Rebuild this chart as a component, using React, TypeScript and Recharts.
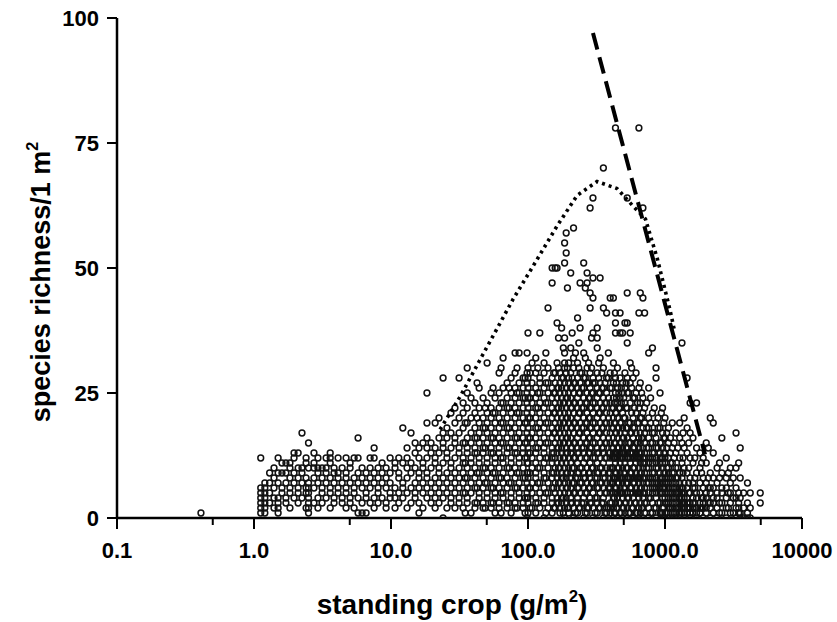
import { Scatter, ScatterChart, XAxis, YAxis } from 'recharts';

// columns of points: [standing crop, species counts found at that crop]
const lowColumns: [number, number[]][] = [
  [0.41, [1]],
  [1.12, [1, 2, 3, 4, 5, 6, 12]],
  [1.2, [1, 2, 3, 4, 5, 6, 7]],
  [1.3, [3, 5, 7, 9]],
  [1.4, [2, 4, 6, 8, 10]],
  [1.5, [1, 2, 3, 4, 7, 9, 12]],
  [1.6, [5, 6, 9, 11]],
  [1.71, [3, 4, 7, 9, 11]],
  [1.83, [2, 5, 6, 8, 10, 11]],
  [1.96, [4, 7, 9, 12, 13]],
  [2.1, [3, 5, 6, 8, 10, 13]],
  [2.24, [4, 7, 9, 10, 17]],
  [2.4, [2, 5, 6, 8, 11, 12]],
  [2.5, [1, 2, 3, 4, 5, 6, 7, 10, 15]],
  [2.74, [3, 6, 8, 10, 11, 13]],
  [2.93, [2, 4, 7, 9, 10, 12]],
  [3.14, [3, 5, 6, 8, 10]],
  [3.36, [4, 7, 9, 10, 12]],
  [3.6, [2, 5, 6, 8, 11, 12, 13]],
  [3.84, [3, 4, 7, 9, 10]],
  [4.11, [5, 6, 8, 9, 12]],
  [4.4, [3, 4, 7, 10]],
  [4.7, [2, 5, 6, 8, 9, 12]],
  [5.03, [3, 4, 7, 10, 11]],
  [5.38, [2, 5, 6, 8, 12]],
  [5.75, [1, 4, 7, 9, 12, 16]],
  [6.15, [1, 3, 6, 8, 10]],
  [6.58, [1, 4, 5, 7, 9]],
  [7.04, [3, 6, 8, 10, 12]],
  [7.53, [2, 4, 7, 9, 12, 14]],
  [8.05, [3, 5, 6, 8, 10]],
  [8.61, [4, 7, 9, 11]],
  [9.21, [2, 3, 6, 8, 10]],
  [9.85, [4, 5, 7, 9, 12]],
];

const midColumns: [number, number[]][] = [
  [10.7, [2, 4, 6, 10, 11]],
  [11.4, [3, 5, 8, 9, 12]],
  [12.2, [4, 6, 7, 11, 18]],
  [13.1, [2, 5, 8, 10, 12, 14]],
  [14, [3, 6, 9, 11, 17]],
  [15, [4, 5, 7, 10, 13, 15]],
  [16, [1, 3, 6, 8, 9, 12, 14]],
  [17.1, [2, 5, 7, 10, 11, 15]],
  [18.3, [4, 6, 8, 9, 12, 14, 16, 19, 25]],
  [19.6, [3, 5, 7, 10, 13, 15]],
  [21, [2, 4, 6, 8, 11, 12, 14, 19]],
  [22.4, [3, 5, 7, 9, 10, 13, 16, 20]],
  [24, [0, 4, 6, 8, 11, 14, 15, 17, 28]],
  [25.6, [2, 5, 7, 9, 12, 13, 16, 18]],
  [27.4, [3, 4, 6, 8, 10, 11, 14, 17, 21]],
  [29.3, [2, 5, 7, 9, 12, 15, 16, 19, 22]],
  [31.4, [3, 4, 6, 8, 10, 13, 14, 17, 20, 28]],
  [33.6, [2, 5, 7, 9, 11, 12, 15, 18, 21, 23]],
  [34.8, [1, 5, 8, 11, 15, 19]],
  [36, [3, 4, 6, 8, 10, 13, 14, 16, 19, 22, 25, 30]],
  [38.4, [1, 5, 7, 9, 11, 12, 15, 17, 20, 24]],
  [41, [2, 3, 6, 8, 10, 13, 14, 16, 18, 21, 23]],
  [42.5, [3, 6, 9, 13, 16, 20, 27]],
  [44, [4, 5, 7, 9, 11, 12, 15, 17, 19, 22, 26]],
  [47, [2, 3, 6, 8, 10, 13, 14, 16, 18, 20, 24]],
  [48.7, [2, 7, 10, 14, 18, 22]],
  [50.3, [4, 5, 7, 9, 11, 12, 15, 17, 19, 21, 23, 31]],
  [53.8, [2, 3, 6, 8, 10, 13, 14, 16, 18, 20, 22, 25]],
  [55.6, [3, 6, 9, 13, 16, 21, 26]],
  [57.5, [1, 4, 5, 7, 9, 11, 12, 15, 17, 19, 21, 24]],
  [61.5, [2, 3, 6, 8, 10, 13, 14, 16, 18, 20, 22, 25, 29]],
  [63.6, [1, 5, 8, 12, 15, 19, 23, 30]],
  [65.8, [4, 5, 7, 9, 11, 12, 15, 17, 19, 21, 23, 26, 32]],
  [70.4, [2, 3, 6, 8, 10, 13, 14, 16, 18, 20, 22, 24, 27]],
  [72.8, [3, 7, 10, 14, 18, 22, 26]],
  [75.3, [1, 4, 5, 7, 9, 11, 12, 15, 17, 19, 21, 23, 25, 28]],
  [80.5, [2, 3, 6, 8, 10, 13, 14, 16, 18, 20, 22, 24, 26, 29, 33]],
  [83.2, [2, 6, 9, 13, 16, 21, 25, 30]],
  [86.1, [4, 5, 7, 9, 11, 12, 15, 17, 19, 21, 23, 25, 27, 33]],
  [92.1, [2, 3, 6, 8, 10, 13, 14, 16, 18, 20, 22, 24, 26, 28]],
  [95.2, [1, 4, 8, 12, 15, 19, 24, 28]],
  [98.5, [0, 4, 5, 7, 9, 11, 12, 15, 17, 19, 21, 23, 25, 27, 29, 33]],
];

const highColumns: [number, number[]][] = [
  [100, [1, 3, 4, 6, 8, 9, 11, 13, 14, 16, 18, 20, 22, 24, 26, 28, 30, 37]],
  [103.5, [2, 6, 9, 13, 16, 20, 24, 29]],
  [107, [2, 5, 7, 10, 12, 15, 17, 19, 21, 23, 25, 27, 31]],
  [114, [1, 3, 4, 6, 8, 9, 11, 13, 14, 16, 18, 20, 22, 24, 26, 29, 32]],
  [118, [3, 7, 10, 14, 18, 22, 25, 30]],
  [122, [2, 5, 7, 10, 12, 15, 17, 19, 21, 23, 25, 27, 28, 37]],
  [131, [0, 3, 4, 6, 8, 9, 11, 13, 14, 16, 18, 20, 22, 24, 26, 29, 31]],
  [135, [1, 5, 8, 12, 15, 19, 23, 27, 33]],
  [140, [2, 5, 7, 10, 12, 15, 17, 19, 21, 23, 25, 27, 30, 42]],
  [150, [1, 3, 4, 6, 8, 9, 11, 12, 13, 14, 16, 18, 20, 22, 24, 26, 28, 47, 50]],
  [154, [2, 6, 9, 13, 17, 21, 25, 29]],
  [158, [2, 5, 7, 10, 12, 15, 17, 19, 21, 23, 25, 27, 29, 50]],
  [163, [3, 4, 6, 8, 9, 11, 13, 14, 16, 18, 20, 22, 24, 26, 31, 39, 50]],
  [167, [3, 7, 10, 14, 18, 22, 26, 30, 36]],
  [171, [1, 2, 5, 7, 10, 12, 15, 17, 19, 21, 23, 25, 27, 29]],
  [176, [3, 4, 6, 8, 9, 11, 13, 14, 16, 18, 20, 22, 24, 26, 28, 38]],
  [181, [1, 4, 8, 12, 15, 19, 23, 28, 34]],
  [185, [0, 2, 5, 7, 10, 12, 15, 17, 19, 21, 23, 25, 27, 30, 31, 33, 36, 51, 55]],
  [190, [3, 4, 6, 8, 9, 11, 13, 14, 16, 18, 20, 22, 24, 26, 29, 53, 57]],
  [194, [2, 6, 9, 13, 16, 20, 24, 30, 46]],
  [198, [1, 2, 5, 7, 10, 12, 15, 17, 19, 21, 23, 25, 27, 28, 31]],
  [205, [3, 4, 6, 8, 9, 11, 13, 14, 16, 18, 20, 22, 24, 26, 29, 34, 49]],
  [210, [3, 7, 10, 14, 18, 22, 26, 28, 37]],
  [215, [0, 2, 5, 7, 10, 12, 15, 17, 19, 21, 23, 25, 27, 30, 32, 58]],
  [222, [1, 5, 8, 12, 15, 19, 23, 27, 33]],
  [230, [1, 3, 4, 6, 8, 9, 11, 13, 14, 16, 18, 20, 22, 24, 26, 28, 31, 40]],
  [235, [2, 6, 9, 13, 17, 21, 25, 30, 35]],
  [240, [2, 5, 7, 10, 12, 15, 17, 19, 21, 23, 25, 27, 29, 38, 47]],
  [247, [3, 7, 10, 14, 18, 22, 26, 29]],
  [255, [0, 3, 4, 6, 8, 9, 11, 13, 14, 16, 18, 20, 22, 24, 26, 28, 33, 51]],
  [262, [1, 5, 8, 12, 15, 19, 23, 28, 32, 46]],
  [270, [1, 2, 5, 7, 10, 12, 15, 17, 19, 21, 23, 25, 27, 30, 47, 49]],
  [277, [2, 6, 9, 13, 16, 20, 24, 27, 31]],
  [284, [3, 4, 6, 8, 9, 11, 13, 14, 16, 18, 20, 22, 24, 26, 29, 42, 45, 62]],
  [291, [3, 7, 10, 14, 18, 22, 25, 30, 36]],
  [298, [0, 2, 5, 7, 10, 12, 15, 17, 19, 21, 23, 25, 27, 28, 37, 44, 48, 64]],
  [309, [1, 4, 8, 12, 15, 19, 23, 27]],
  [320, [1, 3, 4, 6, 8, 9, 11, 13, 14, 16, 18, 20, 22, 24, 26, 29, 34, 36, 38]],
  [328, [2, 6, 9, 13, 17, 21, 25, 28, 31]],
  [336, [2, 5, 7, 10, 12, 15, 17, 19, 21, 23, 25, 27, 32, 48]],
  [346, [3, 7, 10, 14, 18, 22, 26, 29]],
  [355, [0, 3, 4, 6, 8, 9, 11, 13, 14, 16, 18, 20, 22, 24, 26, 30, 42, 70]],
  [365, [1, 5, 8, 12, 15, 19, 23, 27]],
  [375, [1, 2, 5, 7, 10, 12, 15, 17, 19, 21, 23, 25, 28, 41]],
  [386, [2, 6, 9, 13, 16, 20, 24, 28, 33]],
  [398, [1, 2, 3, 5, 6, 7, 9, 10, 12, 13, 15, 17, 19, 21, 23, 26, 29, 44]],
  [409, [3, 7, 10, 14, 18, 22, 26]],
  [420, [0, 2, 4, 5, 7, 8, 10, 12, 13, 14, 16, 18, 20, 22, 24, 27, 31, 44]],
  [427, [1, 4, 8, 12, 15, 19, 23, 29]],
  [435, [1, 3, 5, 6, 8, 9, 11, 12, 13, 15, 17, 19, 21, 25, 28, 37, 39, 41, 78]],
  [442, [2, 6, 9, 13, 17, 21, 24, 27]],
  [450, [0, 2, 4, 5, 7, 8, 10, 12, 13, 14, 16, 18, 20, 23, 26, 30]],
  [460, [3, 7, 10, 14, 18, 22, 25]],
  [470, [1, 3, 5, 6, 8, 9, 11, 12, 13, 15, 17, 19, 22, 24, 28, 37, 41]],
  [480, [1, 5, 8, 12, 15, 19, 23, 26]],
  [490, [0, 2, 4, 5, 7, 8, 10, 12, 13, 14, 16, 18, 21, 25, 27, 37]],
  [500, [2, 6, 9, 13, 16, 20, 24]],
  [510, [1, 3, 5, 6, 8, 9, 11, 12, 13, 15, 17, 20, 23, 26, 29, 39]],
  [520, [3, 7, 10, 14, 18, 22, 27]],
  [530, [0, 2, 4, 5, 7, 8, 10, 12, 13, 14, 16, 18, 22, 25, 28, 35, 39, 45, 64]],
  [543, [1, 4, 8, 12, 15, 19, 25]],
  [557, [1, 3, 5, 6, 8, 9, 11, 12, 13, 15, 17, 19, 23, 27, 31, 37]],
  [571, [2, 6, 9, 13, 17, 21, 26, 30]],
  [585, [0, 2, 4, 5, 7, 8, 10, 12, 13, 14, 16, 18, 20, 24, 28]],
  [600, [3, 7, 10, 14, 18, 22, 24]],
  [615, [1, 3, 5, 6, 8, 9, 11, 12, 13, 15, 17, 21, 25, 29]],
  [630, [1, 5, 8, 12, 15, 19, 23]],
  [645, [0, 2, 4, 5, 7, 8, 10, 12, 13, 14, 16, 19, 22, 26, 41, 78]],
  [660, [1, 3, 5, 6, 8, 9, 11, 12, 13, 15, 17, 20, 23, 27, 45]],
  [675, [2, 6, 9, 13, 16, 20, 25]],
  [690, [0, 2, 4, 5, 7, 8, 10, 11, 12, 14, 16, 18, 21, 24, 44, 62]],
  [710, [1, 3, 5, 6, 8, 9, 11, 12, 13, 15, 17, 19, 22, 41]],
  [735, [3, 7, 10, 14, 18, 23]],
  [760, [0, 2, 4, 5, 7, 8, 10, 11, 12, 14, 16, 18, 20, 26, 33]],
  [785, [1, 4, 8, 12, 15, 19, 24]],
  [810, [1, 3, 5, 6, 7, 8, 9, 11, 12, 13, 15, 17, 21, 34]],
  [835, [2, 6, 9, 13, 17, 22]],
  [860, [0, 2, 4, 5, 6, 7, 8, 10, 11, 12, 14, 16, 19, 28, 30]],
  [890, [3, 7, 10, 14, 18, 20]],
  [920, [1, 3, 5, 6, 7, 8, 9, 11, 12, 13, 15, 18, 25]],
  [940, [1, 5, 8, 12, 15, 21]],
  [960, [0, 1, 2, 4, 5, 6, 7, 8, 10, 11, 12, 14, 17, 22]],
  [980, [2, 6, 9, 13, 16, 19]],
];

const topColumns: [number, number[]][] = [
  [1000, [0, 1, 3, 4, 5, 6, 7, 8, 9, 11, 12, 13, 16, 20]],
  [1030, [1, 3, 7, 10, 14, 17]],
  [1060, [0, 2, 3, 4, 5, 6, 7, 8, 9, 10, 12, 15, 18]],
  [1095, [2, 5, 8, 11, 13, 16]],
  [1130, [0, 1, 2, 3, 4, 5, 6, 7, 8, 9, 11, 14, 19]],
  [1165, [1, 4, 6, 9, 12, 15]],
  [1200, [0, 1, 2, 3, 4, 5, 6, 7, 8, 10, 13, 17]],
  [1240, [2, 5, 8, 10, 14]],
  [1280, [0, 1, 2, 3, 4, 5, 6, 7, 9, 12, 16, 19]],
  [1330, [1, 2, 3, 4, 5, 6, 8, 11, 15, 35]],
  [1355, [3, 6, 9, 12, 17]],
  [1380, [0, 1, 2, 3, 4, 5, 7, 10, 14, 20]],
  [1450, [1, 2, 3, 4, 6, 9, 13, 18, 28]],
  [1490, [2, 5, 7, 10, 15]],
  [1525, [0, 1, 2, 3, 5, 8, 12, 17, 23]],
  [1600, [1, 2, 3, 4, 6, 7, 11, 16]],
  [1650, [3, 6, 8, 12]],
  [1700, [0, 1, 2, 4, 5, 9, 14, 23]],
  [1800, [1, 2, 3, 5, 7, 10, 13]],
  [1850, [2, 4, 9, 11]],
  [1900, [0, 2, 3, 4, 6, 8, 12]],
  [2000, [1, 2, 4, 5, 7, 11, 15]],
  [2070, [3, 6, 8, 14]],
  [2140, [0, 2, 3, 5, 6, 9, 20]],
  [2250, [1, 3, 4, 6, 8, 13, 19]],
  [2400, [0, 2, 4, 5, 7, 10]],
  [2500, [1, 3, 8, 11]],
  [2600, [1, 3, 5, 6, 9, 16]],
  [2800, [0, 2, 4, 6, 8, 12]],
  [2900, [2, 5, 9]],
  [3000, [1, 3, 5, 7, 10]],
  [3150, [1, 4, 8]],
  [3300, [0, 2, 4, 6, 10, 17]],
  [3450, [1, 2, 3, 5, 11]],
  [3540, [0, 1, 4, 8, 14]],
  [3750, [0, 2, 5]],
  [4000, [0, 1, 3, 7]],
  [4190, [0, 2, 5]],
  [4960, [3, 5]],
];

// upper envelope (dotted) and the straight boundary (dashed)
const envelopeX = [22.8, 32, 46, 78, 109, 163, 228, 319, 446, 584, 720, 880, 1088, 1180];
const envelopeY = [17.7, 24.3, 32.3, 43.8, 50.4, 58.4, 64.5, 67.3, 65.9, 62.4, 59.8, 51.8, 41.6, 37.1];
const boundaryX = [298, 1960];
const boundaryY = [97, 12.7];

const majorTicks = [0.1, 1, 10, 100, 1000, 10000];
const minorTicks = [0.5, 5, 50, 500, 5000];
const tickLabels = ['0.1', '1.0', '10.0', '100.0', '1000.0', '10000'];
const yTicks = [0, 25, 50, 75, 100];

const points = [...lowColumns, ...midColumns, ...highColumns, ...topColumns].flatMap(([x, ys]) =>
  ys.map((y) => ({ x, y }))
);
const envelope = envelopeX.map((x, i) => ({ x, y: envelopeY[i] }));
const boundary = boundaryX.map((x, i) => ({ x, y: boundaryY[i] }));

const font = '"Liberation Sans", Arial, sans-serif';

function XTick(props: any) {
  const { x, y, payload } = props;
  const i = majorTicks.indexOf(payload.value);
  const major = i >= 0;
  return (
    <g>
      <line x1={x} x2={x} y1={y} y2={y + (major ? 11 : 7)} stroke="#000" strokeWidth={2} />
      {major && (
        <text x={x} y={y + 40} textAnchor="middle" fontSize={22} fontWeight="bold" fontFamily={font} fill="#000">
          {tickLabels[i]}
        </text>
      )}
    </g>
  );
}

const Ring = (props: any) => (
  <circle cx={props.cx} cy={props.cy} r={2.9} fill="none" stroke="#111" strokeWidth={1.5} />
);
const NoDot = () => <g />;

export default function App() {
  return (
    <div style={{ position: 'absolute', left: 0, top: 0, width: 837, height: 622, background: '#fff' }}>
      <ScatterChart width={837} height={622} margin={{ top: 18, right: 35, left: 17, bottom: 44 }}>
        <XAxis
          type="number"
          dataKey="x"
          scale="log"
          domain={[0.1, 10000]}
          ticks={[...majorTicks, ...minorTicks].sort((a, b) => a - b)}
          tick={<XTick />}
          tickLine={false}
          tickSize={0}
          tickMargin={0}
          height={60}
          allowDataOverflow
          axisLine={{ stroke: '#000', strokeWidth: 2.5 }}
        />
        <YAxis
          type="number"
          dataKey="y"
          domain={[0, 100]}
          ticks={yTicks}
          width={100}
          tickSize={10}
          tickMargin={8}
          allowDataOverflow
          axisLine={{ stroke: '#000', strokeWidth: 2.5 }}
          tickLine={{ stroke: '#000', strokeWidth: 2 }}
          tick={{ fill: '#000', fontSize: 22, fontWeight: 'bold', fontFamily: font }}
        />
        <Scatter data={points} shape={<Ring />} isAnimationActive={false} />
        <Scatter
          data={envelope}
          shape={<NoDot />}
          line={{ stroke: '#000', strokeWidth: 3.6, strokeDasharray: '3 4' }}
          isAnimationActive={false}
        />
        <Scatter
          data={boundary}
          shape={<NoDot />}
          line={{ stroke: '#000', strokeWidth: 4, strokeDasharray: '17 8' }}
          isAnimationActive={false}
        />
      </ScatterChart>
      <div
        style={{
          position: 'absolute',
          left: 41,
          top: 282,
          transform: 'translate(-50%, -50%) rotate(-90deg)',
          whiteSpace: 'nowrap',
          font: `bold 27px ${font}`,
          lineHeight: 1,
        }}
      >
        species richness/1 m<sup style={{ fontSize: '0.6em', verticalAlign: '0.7em', lineHeight: 0 }}>2</sup>
      </div>
      <div
        style={{
          position: 'absolute',
          left: 452,
          top: 605,
          transform: 'translate(-50%, -50%)',
          whiteSpace: 'nowrap',
          font: `bold 28px ${font}`,
          lineHeight: 1,
        }}
      >
        standing crop (g/m<sup style={{ fontSize: '0.6em', verticalAlign: '0.7em', lineHeight: 0 }}>2</sup>)
      </div>
    </div>
  );
}
